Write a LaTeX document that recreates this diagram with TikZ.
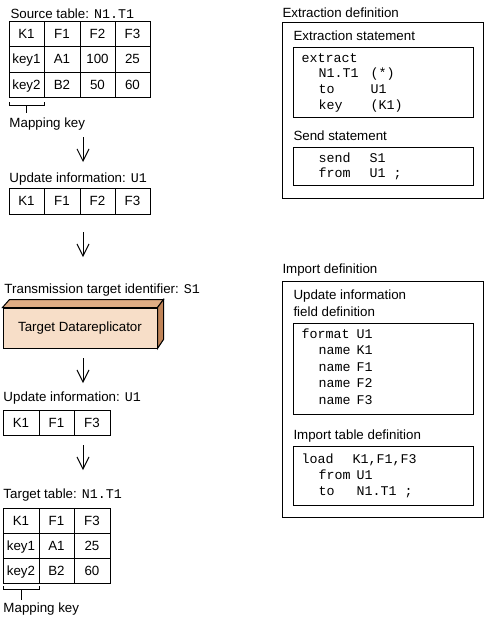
\documentclass[tikz,border=0pt]{standalone}
\usepackage{fontspec}
\setmainfont{Liberation Sans}
\setmonofont{Liberation Mono}
\usetikzlibrary{arrows.meta}
\definecolor{boxfront}{RGB}{247,222,200}
\definecolor{boxtop}{RGB}{222,172,132}
\definecolor{boxside}{RGB}{192,132,88}
\begin{document}
\begin{tikzpicture}[x=0.75pt,y=-0.75pt,line width=0.75pt,
  lbl/.style={anchor=base west,inner sep=0pt,font=\fontsize{10}{12}\selectfont},
  code/.style={anchor=base west,inner sep=0pt,font=\fontsize{10}{12}\selectfont\ttfamily},
  cell/.style={anchor=base,inner sep=0pt,font=\fontsize{10}{12}\selectfont},
  flow/.style={-{Straight Barb[length=9pt,width=9pt]},line width=0.75pt}
]
\useasboundingbox (0,0) rectangle (487,621);

% ---------------- Source table
\node[lbl] (srclbl) at (10,18.5) {Source table: {\fontsize{10}{12}\selectfont\ttfamily N1.T1}};
\draw (9,21) rectangle (150,97);
\foreach \x in {44,80,115} \draw (\x,21) -- (\x,97);
\foreach \y in {46,72} \draw (9,\y) -- (150,\y);
\node[cell] (s11) at (26.5,38) {K1};
\node[cell] (s12) at (62,38) {F1};
\node[cell] (s13) at (97.5,38) {F2};
\node[cell] (s14) at (132.5,38) {F3};
\node[cell] (s21) at (26.5,63.5) {key1};
\node[cell] (s22) at (62,63.5) {A1};
\node[cell] (s23) at (97.5,63.5) {100};
\node[cell] (s24) at (132.5,63.5) {25};
\node[cell] (s31) at (26.5,89) {key2};
\node[cell] (s32) at (62,89) {B2};
\node[cell] (s33) at (97.5,89) {50};
\node[cell] (s34) at (132.5,89) {60};
\draw (9,102) -- (9,105) -- (44,105) -- (44,102);
\draw (26,105) -- (26,113);
\node[lbl] (mk1) at (9,127) {Mapping key};

% arrow 1
\coordinate (a1s) at (83,137);
\coordinate (a1e) at (83,162);
\draw[flow] (a1s) -- (a1e);

% ---------------- Update information U1 (4 fields)
\node[lbl] (ui1) at (9,182) {Update information: {\fontsize{10}{12}\selectfont\ttfamily U1}};
\draw (9,188) rectangle (150,214);
\foreach \x in {44,80,115} \draw (\x,188) -- (\x,214);
\node[cell] (u11) at (26.5,205.5) {K1};
\node[cell] (u12) at (62,205.5) {F1};
\node[cell] (u13) at (97.5,205.5) {F2};
\node[cell] (u14) at (132.5,205.5) {F3};

% arrow 2
\coordinate (a2s) at (83,232);
\coordinate (a2e) at (83,257);
\draw[flow] (a2s) -- (a2e);

% ---------------- Target Datareplicator
\node[lbl] (ttid) at (4,293) {Transmission target identifier: {\fontsize{10}{12}\selectfont\ttfamily S1}};
\node[draw,fill=boxfront,minimum width=154*0.75pt,minimum height=40*0.75pt,inner sep=0pt,
      font=\fontsize{10}{12}\selectfont] (tdr) at (80,328) {Target Datareplicator};
\draw[fill=boxtop] (tdr.north west) -- ++(7,-8) -- ++(154,0) -- (tdr.north east) -- cycle;
\draw[fill=boxside] (tdr.north east) -- ++(6,-8) -- ++(0,40) -- (tdr.south east) -- cycle;

% arrow 3
\coordinate (a3s) at (83,358);
\coordinate (a3e) at (83,383);
\draw[flow] (a3s) -- (a3e);

% ---------------- Update information U1 (3 fields)
\node[lbl] (ui2) at (3,401) {Update information: {\fontsize{10}{12}\selectfont\ttfamily U1}};
\draw (3,410) rectangle (110,435);
\foreach \x in {39,74} \draw (\x,410) -- (\x,435);
\node[cell] (v11) at (21,427) {K1};
\node[cell] (v12) at (56.5,427) {F1};
\node[cell] (v13) at (92,427) {F3};

% arrow 4
\coordinate (a4s) at (83,445);
\coordinate (a4e) at (83,470);
\draw[flow] (a4s) -- (a4e);

% ---------------- Target table
\node[lbl] (tgtlbl) at (3,498) {Target table: {\fontsize{10}{12}\selectfont\ttfamily N1.T1}};
\draw (3,508) rectangle (110,583);
\foreach \x in {39,74} \draw (\x,508) -- (\x,583);
\foreach \y in {533,558} \draw (3,\y) -- (110,\y);
\node[cell] (t11) at (21,525) {K1};
\node[cell] (t12) at (56.5,525) {F1};
\node[cell] (t13) at (92,525) {F3};
\node[cell] (t21) at (21,550) {key1};
\node[cell] (t22) at (56.5,550) {A1};
\node[cell] (t23) at (92,550) {25};
\node[cell] (t31) at (21,575) {key2};
\node[cell] (t32) at (56.5,575) {B2};
\node[cell] (t33) at (92,575) {60};
\draw (3,586) -- (3,589) -- (39,589) -- (39,586);
\draw (21.5,589) -- (21.5,600);
\node[lbl] (mk2) at (3,612) {Mapping key};

% ---------------- Extraction definition
\node[lbl] (exdef) at (282,17.5) {Extraction definition};
\draw (282,22) rectangle (483,198);
\node[lbl] (exst) at (293,40) {Extraction statement};
\draw (293,47) rectangle (473,117);
\node[code] (c1) at (301,62) {extract};
\node[code] (c2) at (318,77) {N1.T1};
\node[code] (c2b) at (370,77) {(*)};
\node[code] (c3) at (318,93) {to};
\node[code] (c3b) at (370,93) {U1};
\node[code] (c4) at (318,109) {key};
\node[code] (c4b) at (370,109) {(K1)};
\node[lbl] (sendst) at (293,140) {Send statement};
\draw (293,147) rectangle (473,185);
\node[code] (d1) at (318,162) {send};
\node[code] (d1b) at (369,162) {S1};
\node[code] (d2) at (318,177) {from};
\node[code] (d2b) at (369,177) {U1 ;};

% ---------------- Import definition
\node[lbl] (imdef) at (282,273) {Import definition};
\draw (282,281) rectangle (483,517);
\node[lbl] (uifd1) at (293,299) {Update information};
\node[lbl] (uifd2) at (293,316) {field definition};
\draw (293,323) rectangle (473,414);
\node[code] (f1) at (301,338) {format};
\node[code] (f1b) at (356,338) {U1};
\node[code] (f2) at (318,354.5) {name};
\node[code] (f2b) at (356,354.5) {K1};
\node[code] (f3) at (318,371) {name};
\node[code] (f3b) at (356,371) {F1};
\node[code] (f4) at (318,387.5) {name};
\node[code] (f4b) at (356,387.5) {F2};
\node[code] (f5) at (318,404) {name};
\node[code] (f5b) at (356,404) {F3};
\node[lbl] (itd) at (293,439) {Import table definition};
\draw (293,446) rectangle (473,505);
\node[code] (g1) at (301,463) {load};
\node[code] (g1b) at (352,463) {K1,F1,F3};
\node[code] (g2) at (318,479) {from};
\node[code] (g2b) at (356,479) {U1};
\node[code] (g3) at (318,495) {to};
\node[code] (g3b) at (356,495) {N1.T1 ;};
\end{tikzpicture}
\end{document}
